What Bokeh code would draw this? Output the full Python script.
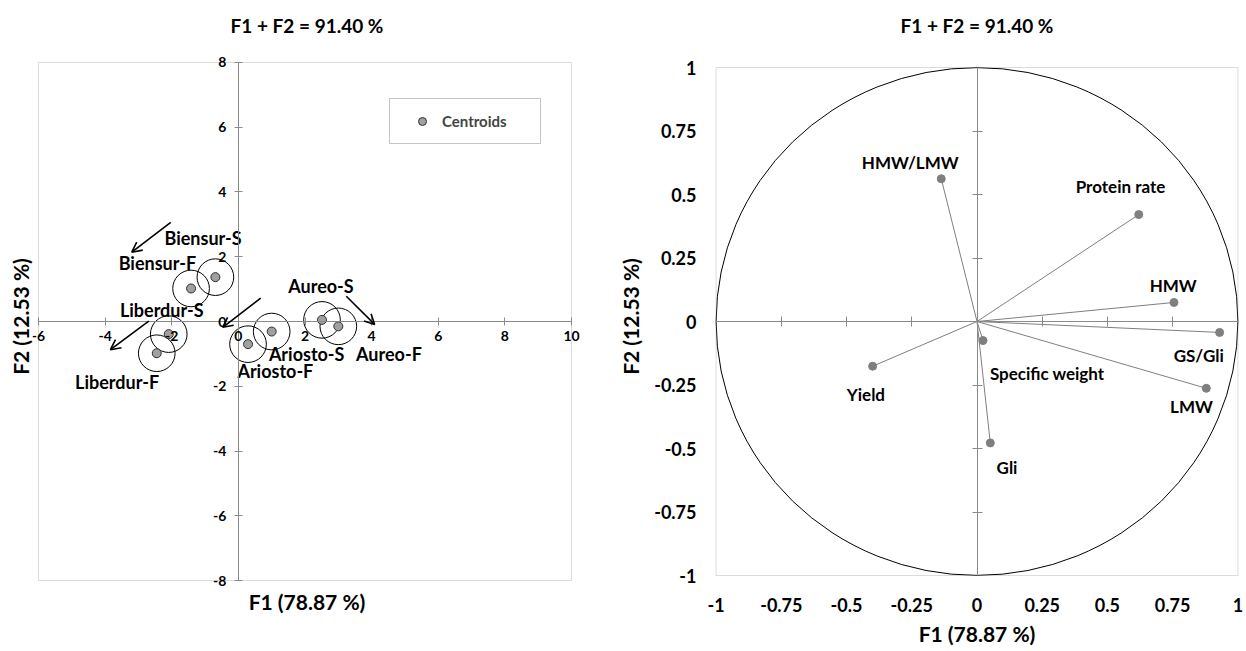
from bokeh.plotting import figure
from bokeh.layouts import row
from bokeh.models import (FixedTicker, Title, Legend, LegendItem, Arrow, OpenHead,
                          LinearAxis, Range1d, ColumnDataSource, Label, BoxAnnotation)
from bokeh.embed import file_html
from bokeh.resources import INLINE
from bokeh.core.properties import value

FONT = "Lato"
GRAY = "#8a8a8a"

# ---------------- Left chart: observations (centroids) ----------------
obs_names = ["Biensur-S", "Biensur-F", "Liberdur-S", "Liberdur-F",
             "Ariosto-S", "Ariosto-F", "Aureo-S", "Aureo-F"]
obs_f1 = [-0.69, -1.42, -2.09, -2.45, 1.00, 0.29, 2.51, 3.00]
obs_f2 = [1.37, 1.02, -0.39, -0.98, -0.31, -0.70, 0.05, -0.15]
obs_label_f1 = [-1.06, -2.43, -2.30, -3.64, 2.05, 1.11, 2.48, 4.52]
obs_label_f2 = [2.58, 1.80, 0.37, -1.86, -0.99, -1.52, 1.09, -0.99]
circle_radius = 0.55

arrow_x_start = [-2.03, -2.69, 0.67, 3.24]
arrow_y_start = [3.06, 0.01, 0.72, 0.78]
arrow_x_end = [-3.20, -3.84, -0.47, 4.09]
arrow_y_end = [2.14, -0.87, -0.18, -0.09]

left_xlim = (-6, 10)
left_ylim = (-8, 8)
left_xticks = [-6, -4, -2, 0, 2, 4, 6, 8, 10]
left_xtick_labels = ["-6", "-4", "-2", "0", "2", "4", "6", "8", "10"]
left_yticks = [-8, -6, -4, -2, 0, 2, 4, 6, 8]
left_ytick_labels = ["-8", "-6", "-4", "-2", "0", "2", "4", "6", "8"]

# ---------------- Right chart: variables ----------------
var_names = ["HMW/LMW", "Protein rate", "HMW", "GS/Gli", "LMW",
             "Specific weight", "Yield", "Gli"]
var_f1 = [-0.137, 0.620, 0.755, 0.930, 0.879, 0.023, -0.400, 0.051]
var_f2 = [0.562, 0.421, 0.075, -0.043, -0.263, -0.075, -0.176, -0.478]
var_label_f1 = [-0.256, 0.550, 0.752, 0.850, 0.822, 0.269, -0.426, 0.115]
var_label_f2 = [0.627, 0.531, 0.142, -0.134, -0.333, -0.206, -0.289, -0.574]

right_lim = (-1, 1)
right_ticks = [-1, -0.75, -0.5, -0.25, 0, 0.25, 0.5, 0.75, 1]
right_tick_labels = ["-1", "-0.75", "-0.5", "-0.25", "0", "0.25", "0.5", "0.75", "1"]
right_inner_ticks = [-0.75, -0.5, -0.25, 0.25, 0.5, 0.75]

title_text = "F1 + F2 = 91.40 %"
x_title = "F1 (78.87 %)"
y_title = "F2 (12.53 %)"


def style_title(t, size="19px"):
    t.text_font = FONT
    t.text_font_style = "bold"
    t.text_font_size = size
    t.align = "center"
    t.text_color = "black"


H = 650

# ================= Left figure =================
# view ranges are slightly wider than the drawn box so edge tick labels are not clipped
p1 = figure(width=606, height=H, x_range=Range1d(-6.18, 10.3), y_range=Range1d(-8.185, 8.494),
            output_backend="svg", toolbar_location=None,
            min_border_left=32, min_border_right=25, min_border_top=46, min_border_bottom=64)
p1.grid.visible = False
p1.outline_line_color = None
p1.title.text = title_text
style_title(p1.title)
p1.title.standoff = 20

p1.add_layout(BoxAnnotation(left=left_xlim[0], right=left_xlim[1], bottom=left_ylim[0],
                            top=left_ylim[1], fill_color=None, line_color=GRAY, line_width=1))

for ax in (p1.xaxis, p1.yaxis):
    ax.fixed_location = 0
    ax.axis_line_color = GRAY
    ax.major_tick_line_color = GRAY
    ax.major_tick_in = 4
    ax.major_tick_out = 4
    ax.minor_tick_line_color = None
    ax.major_label_text_color = None
    ax.major_label_text_font_size = "1px"
p1.xaxis.bounds = left_xlim
p1.yaxis.bounds = left_ylim
p1.xaxis.ticker = FixedTicker(ticks=left_xticks)
p1.yaxis.ticker = FixedTicker(ticks=left_yticks)

tick_style = dict(text_font=FONT, text_font_style="bold", text_font_size="14px",
                  text_color="black")
for t, s in zip(left_xticks, left_xtick_labels):
    p1.add_layout(Label(x=t, y=0, text=s, y_offset=-9, text_align="center",
                        text_baseline="top", **tick_style))
for t, s in zip(left_yticks, left_ytick_labels):
    p1.add_layout(Label(x=0, y=t, text=s, x_offset=-12, text_align="right",
                        text_baseline="middle", **tick_style))

bt = Title(text=x_title)
style_title(bt, "21px")
bt.standoff = 0
p1.add_layout(bt, "below")
lt = Title(text=y_title)
style_title(lt, "21px")
lt.standoff = 0
p1.add_layout(lt, "left")

p1.circle(x=obs_f1, y=obs_f2, radius=circle_radius, fill_color=None,
          line_color="black", line_width=1)
cent = p1.scatter(x=obs_f1, y=obs_f2, size=9, fill_color="#a0a0a0",
                  line_color="#303030", line_width=1)
p1.text(x=obs_label_f1, y=obs_label_f2, text=obs_names, text_font=value(FONT),
        text_font_style="bold", text_font_size="18px", text_align="center",
        text_baseline="middle", text_color="black")

arr_src = ColumnDataSource(dict(x0=arrow_x_start, y0=arrow_y_start,
                                x1=arrow_x_end, y1=arrow_y_end))
p1.add_layout(Arrow(end=OpenHead(size=10, line_width=1.6, line_color="black"),
                    x_start="x0", y_start="y0", x_end="x1", y_end="y1",
                    source=arr_src, line_width=1.6, line_color="black"))

legend = Legend(items=[LegendItem(label="Centroids", renderers=[cent])],
                location=(357, 442), padding=12, glyph_width=40, glyph_height=20,
                label_height=20, label_width=86, label_standoff=0, margin=0, spacing=0,
                border_line_color=GRAY, label_text_font=FONT,
                label_text_font_style="bold", label_text_font_size="15px")
p1.add_layout(legend)

# ================= Right figure =================
p2 = figure(width=640, height=H, x_range=Range1d(-1.01, 1.01), y_range=Range1d(-1.0433, 1.0827),
            output_backend="svg", toolbar_location=None,
            min_border_left=107, min_border_right=6, min_border_top=46, min_border_bottom=64)
p2.grid.visible = False
p2.outline_line_color = None
p2.title.text = title_text
style_title(p2.title)
p2.title.standoff = 20

p2.add_layout(BoxAnnotation(left=right_lim[0], right=right_lim[1], bottom=right_lim[0],
                            top=right_lim[1], fill_color=None, line_color=GRAY, line_width=1))

overrides = {t: s for t, s in zip(right_ticks, right_tick_labels)}
for ax in (p2.xaxis, p2.yaxis):
    ax.ticker = FixedTicker(ticks=right_ticks)
    ax.major_label_overrides = overrides
    ax.axis_line_color = None
    ax.major_tick_line_color = None
    ax.major_tick_in = 0
    ax.major_tick_out = 0
    ax.minor_tick_line_color = None
    ax.major_label_text_font = FONT
    ax.major_label_text_font_style = "bold"
    ax.major_label_text_font_size = "18px"
    ax.major_label_text_color = "black"
    ax.axis_label_text_font = FONT
    ax.axis_label_text_font_style = "bold"
    ax.axis_label_text_font_size = "21px"
    ax.axis_label_text_color = "black"
p2.xaxis.axis_label = x_title
p2.yaxis.axis_label = y_title
p2.xaxis.major_label_standoff = 11
p2.yaxis.major_label_standoff = 17
p2.xaxis.axis_label_standoff = 6
p2.yaxis.axis_label_standoff = 8

for side in ("below", "left"):
    cax = LinearAxis(fixed_location=0, ticker=FixedTicker(ticks=right_inner_ticks),
                     bounds=right_lim,
                     major_label_text_color=None, major_label_text_font_size="1px",
                     axis_line_color=GRAY,
                     major_tick_line_color=GRAY, major_tick_in=5, major_tick_out=5,
                     minor_tick_line_color=None)
    p2.add_layout(cax, side)

p2.ellipse(x=0, y=0, width=2, height=2, fill_color=None, line_color="black", line_width=1)
p2.segment(x0=0, y0=0, x1=var_f1, y1=var_f2, line_color="#7f7f7f", line_width=1)
p2.scatter(x=var_f1, y=var_f2, size=8, fill_color="#7f7f7f", line_color="#7f7f7f")
p2.text(x=var_label_f1, y=var_label_f2, text=var_names, text_font=value(FONT),
        text_font_style="bold", text_font_size="17px", text_align="center",
        text_baseline="middle", text_color="black")

layout = row(p1, p2)
open("out.html", "w").write(file_html(layout, INLINE))
